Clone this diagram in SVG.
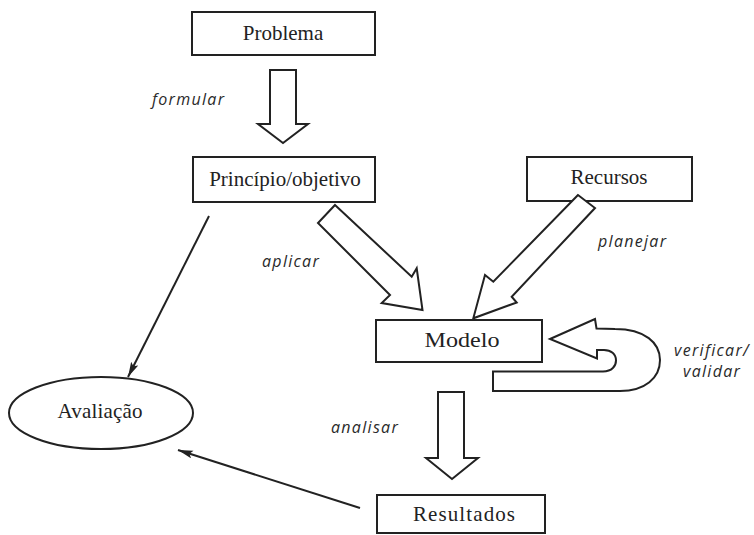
<svg xmlns="http://www.w3.org/2000/svg" width="754" height="535" viewBox="0 0 754 535">
<style>
.box{fill:#fff;stroke:#222;stroke-width:2}
.lbl{font-family:"Liberation Serif","Times New Roman",serif;font-size:21px;fill:#222;text-anchor:middle}
.blk{fill:#fff;stroke:#222;stroke-width:2;stroke-linejoin:miter}
.ln{fill:none;stroke:#222;stroke-width:2}
.act{font-family:"Open Sans","DejaVu Sans",sans-serif;font-style:italic;font-size:16px;fill:#2a2a2a;letter-spacing:1.3px}
</style>
<defs>
<marker id="ah" markerUnits="userSpaceOnUse" markerWidth="18" markerHeight="10" refX="15" refY="4" orient="auto">
<path d="M0,0 L15,4 L0,8 L3,4 z" fill="#222"/>
</marker>
</defs>
<rect width="754" height="535" fill="#fff"/>
<g id="problema">
<rect class="box" x="192" y="12" width="183" height="43"/>
<text class="lbl" x="283" y="40">Problema</text>
</g>
<g id="principio">
<rect class="box" x="193" y="157" width="182" height="45"/>
<text class="lbl" x="285" y="186">Princípio/objetivo</text>
</g>
<g id="recursos">
<rect class="box" x="527" y="157" width="165" height="44"/>
<text class="lbl" x="609" y="184">Recursos</text>
</g>
<g id="modelo">
<rect class="box" x="376" y="320" width="166" height="42"/>
<text class="lbl" x="462" y="347" textLength="75" lengthAdjust="spacingAndGlyphs">Modelo</text>
</g>
<g id="resultados">
<rect class="box" x="377" y="495" width="168" height="38"/>
<text class="lbl" x="464" y="521" textLength="102" lengthAdjust="spacing">Resultados</text>
</g>
<g id="avaliacao">
<ellipse class="box" cx="101" cy="413" rx="92" ry="36"/>
<text class="lbl" x="100" y="418" font-size="20" textLength="85" lengthAdjust="spacing">Avaliação</text>
</g>
<g id="connectors">
<polygon class="blk" points="270,70 296,70 296,124 308,124 283,143 258,124 270,124"/>
<polygon class="blk" points="335,205 411.7,276.7 416.7,268.3 422.5,310 381.7,303 390,295 318,223"/>
<polygon class="blk" points="578,195 493.3,281.7 485,275 473.3,318.3 516.7,302.5 511.7,296.7 595,208"/>
<path class="blk" d="M550,339 L595,319 L596.5,328.5 L615,329 C645,329 660,343 660,360 C660,378 645,391 620,391 L493,391 L493,371.5 L603,371.5 C612,371.5 616,366 616,360.5 C616,354 611,350 604,350 L597,350 L597,358.5 Z"/>
<polygon class="blk" points="438,392 464,392 464,458 478,458 452,479 426,458 438,458"/>
<line class="ln" x1="209" y1="216" x2="128" y2="377" marker-end="url(#ah)"/>
<line class="ln" x1="360" y1="508" x2="178" y2="450" marker-end="url(#ah)"/>
</g>
<g id="labels">
<text class="act" x="152" y="105">formular</text>
<text class="act" x="262" y="267">aplicar</text>
<text class="act" x="598" y="247">planejar</text>
<text class="act" x="674" y="356">verificar/</text>
<text class="act" x="683" y="377">validar</text>
<text class="act" x="331" y="433">analisar</text>
</g>
</svg>
